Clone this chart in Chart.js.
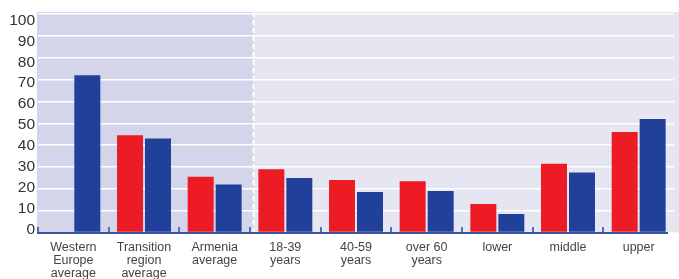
<!DOCTYPE html>
<html>
<head>
<meta charset="utf-8">
<script src="https://cdn.jsdelivr.net/npm/chart.js@4.4.1/dist/chart.umd.min.js"></script>
<style>
  html, body { margin: 0; padding: 0; background: #ffffff; }
  #wrap { width: 679px; height: 279px; position: relative; }
</style>
</head>
<body>
<div id="wrap"><canvas id="grafico"></canvas></div>
<script>
// categories (multi-line labels)
var categorias = [
    ['Western', 'Europe', 'average'],
    ['Transition', 'region', 'average'],
    ['Armenia', 'average'],
    ['18-39', 'years'],
    ['40-59', 'years'],
    ['over 60', 'years'],
    'lower',
    'middle',
    'upper'
];
// red series (no value for Western Europe)
var serieRoja = [null, 44.5, 25.5, 29, 24, 23.5, 13, 31.5, 46];
// blue series
var serieAzul = [72, 43, 22, 25, 18.5, 19, 8.5, 27.5, 52];
var ticksY = [0, 10, 20, 30, 40, 50, 60, 70, 80, 90, 100];
// the first three categories sit in the darker shaded zone
var zonaSombreada = 3;

var fondo = {
    id: 'fondo',
    beforeDraw: function (chart) {
        var ctx = chart.ctx;
        var area = chart.chartArea;
        var x = chart.scales.x;
        var paso = x.getPixelForValue(1) - x.getPixelForValue(0);
        var corte = x.getPixelForValue(zonaSombreada) - paso / 2 + 3.5;
        ctx.save();
        ctx.fillStyle = '#e6e6f3';
        ctx.fillRect(area.left - 1, area.top - 2, chart.width - area.left + 1, area.bottom - area.top + 2);
        ctx.fillStyle = '#d4d5ea';
        ctx.fillRect(area.left - 1, area.top - 2, corte - area.left + 1, area.bottom - area.top + 2);
        ctx.restore();
    },
    beforeDatasetsDraw: function (chart) {
        var ctx = chart.ctx;
        var area = chart.chartArea;
        var x = chart.scales.x;
        var paso = x.getPixelForValue(1) - x.getPixelForValue(0);
        var corte = x.getPixelForValue(zonaSombreada) - paso / 2 + 3.5;
        ctx.save();
        ctx.strokeStyle = 'rgba(255,255,255,0.9)';
        ctx.lineWidth = 2;
        ctx.setLineDash([5, 3]);
        ctx.beginPath();
        ctx.moveTo(corte, area.top - 2);
        ctx.lineTo(corte, area.bottom);
        ctx.stroke();
        ctx.restore();
    },
    afterDatasetsDraw: function (chart) {
        var ctx = chart.ctx;
        var area = chart.chartArea;
        var x = chart.scales.x;
        var paso = x.getPixelForValue(1) - x.getPixelForValue(0);
        ctx.save();
        ctx.strokeStyle = '#5a6cb2';
        ctx.lineWidth = 2;
        for (var i = 0; i < categorias.length; i++) {
            var px = Math.round(x.getPixelForValue(i) - paso / 2);
            ctx.beginPath();
            ctx.moveTo(px, area.bottom - 5.5);
            ctx.lineTo(px, area.bottom);
            ctx.stroke();
        }
        ctx.strokeStyle = '#3953a4';
        ctx.lineWidth = 2;
        ctx.beginPath();
        ctx.moveTo(area.left - 1, area.bottom + 0.5);
        ctx.lineTo(area.right - 6, area.bottom + 0.5);
        ctx.stroke();
        ctx.restore();
    }
};

var controlBar = document.getElementById('grafico');
var graficoBar = new Chart(controlBar, {
    type: 'bar',
    data: {
        labels: categorias,
        datasets: [{
            label: 'rojo',
            backgroundColor: '#ed1c24',
            borderWidth: 0,
            data: serieRoja,
            categoryPercentage: 0.792,
            barPercentage: 0.929
        }, {
            label: 'azul',
            backgroundColor: '#21409a',
            borderWidth: 0,
            data: serieAzul,
            categoryPercentage: 0.792,
            barPercentage: 0.929
        }]
    },
    options: {
        responsive: true,
        maintainAspectRatio: false,
        animation: false,
        layout: {
            padding: { left: 1, right: 5, top: 14, bottom: 0 }
        },
        plugins: {
            legend: { display: false },
            tooltip: { enabled: false }
        },
        scales: {
            x: {
                grid: { display: false, drawTicks: false },
                border: { display: false },
                ticks: {
                    autoSkip: false,
                    maxRotation: 0,
                    minRotation: 0,
                    padding: 9,
                    color: '#444444',
                    font: { family: 'Liberation Sans', size: 12.5, lineHeight: 1.04 }
                },
                afterFit: function (scale) { scale.height = 46.5; }
            },
            y: {
                min: 0,
                max: 100,
                position: 'left',
                grid: { color: '#ffffff', lineWidth: 1.5, drawTicks: false },
                border: { display: false },
                ticks: { display: false, stepSize: 10 },
                afterFit: function (scale) { scale.width = 0; }
            },
            // tick labels sit on a slightly tighter spacing than the grid
            yl: {
                min: -1.19,
                max: 103.0,
                position: 'left',
                grid: { display: false, drawTicks: false },
                border: { display: false },
                afterBuildTicks: function (scale) {
                    scale.ticks = ticksY.map(function (v) { return { value: v }; });
                },
                ticks: {
                    padding: 3,
                    color: '#333333',
                    font: { family: 'Liberation Sans', size: 15.5 }
                },
                afterFit: function (scale) { scale.width = 37; }
            }
        }
    },
    plugins: [fondo]
});
</script>
</body>
</html>
